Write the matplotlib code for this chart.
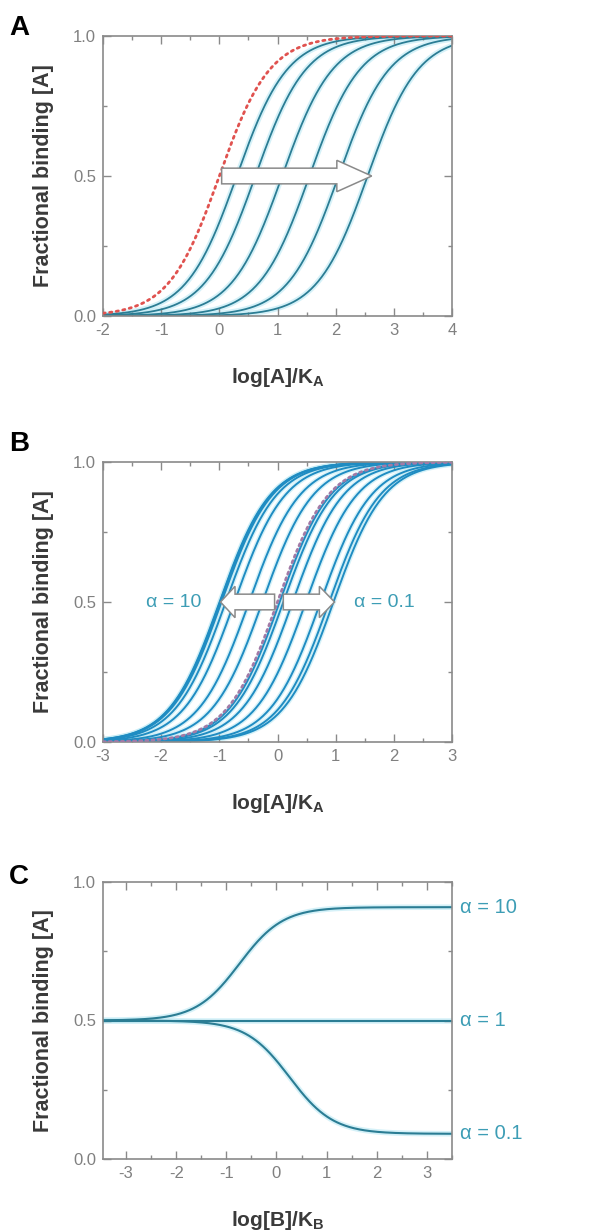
import numpy as np
import matplotlib
matplotlib.use("Agg")
import matplotlib.pyplot as plt
from matplotlib.patches import FancyArrow
from matplotlib.ticker import MultipleLocator, FormatStrFormatter

plt.rcParams['font.family'] = ['Liberation Sans', 'DejaVu Sans']
plt.rcParams['axes.unicode_minus'] = False
plt.rcParams['mathtext.fontset'] = 'custom'
plt.rcParams['mathtext.rm'] = 'Liberation Sans'
plt.rcParams['mathtext.bf'] = 'Liberation Sans:bold'

# ---- data ----
# Panel A: control curve and rightward log-shifts of the midpoint
shifts_a = [0.30, 0.62, 1.08, 1.55, 2.05, 2.55]
# Panel B: modulator concentrations ([B]/K_B) for the two cooperativity factors
b_conc = [0.1, 0.3, 1, 3, 10, 30, 100]
alpha_b = [10, 0.1]
# Panel C: cooperativity factors at [A] = K_A
alpha_c = [10, 1, 0.1]
alpha_c_labels = ['α = 10', 'α = 1', 'α = 0.1']

LINE = '#2b7d94'
HALO = '#c4ecf6'
BLUE = '#1f8cc2'
TEXT_BLUE = '#3d9db5'
GRAY = '#8a8a8a'
LABEL = '#3a3a3a'


def occupancy(logx, dose_ratio):
    a = 10.0 ** np.asarray(logx)
    return a / (a + dose_ratio)


def style_axes(ax, xmajor, xminor):
    ax.set_ylim(0, 1)
    ax.xaxis.set_major_locator(MultipleLocator(xmajor))
    ax.xaxis.set_minor_locator(MultipleLocator(xminor))
    ax.yaxis.set_major_locator(MultipleLocator(0.5))
    ax.yaxis.set_minor_locator(MultipleLocator(0.25))
    ax.yaxis.set_major_formatter(FormatStrFormatter('%.1f'))
    ax.xaxis.set_major_formatter(FormatStrFormatter('%d'))
    ax.tick_params(which='both', direction='in', top=True, right=True,
                   color=GRAY, labelcolor='#808080', labelsize=12, width=1)
    ax.tick_params(which='major', length=6, pad=5)
    ax.tick_params(which='minor', length=3)
    for s in ax.spines.values():
        s.set_color(GRAY)
        s.set_linewidth(1.2)
    ax.set_ylabel('Fractional binding [A]', fontsize=15.5, fontweight='bold',
                  color=LABEL)
    ax.yaxis.set_label_coords(-0.14, 0.5)


def halo_line(ax, x, y, color, lw=1.3, halo_lw=4.0, **kw):
    ax.plot(x, y, color=HALO, lw=halo_lw, alpha=0.7, solid_capstyle='butt', zorder=1)
    ax.plot(x, y, color=color, lw=lw, zorder=2, **kw)


def set_xlabel(ax, text):
    ax.set_xlabel(text, fontsize=15, fontweight='bold', color=LABEL)
    ax.xaxis.set_label_coords(0.5, -0.18)


fig = plt.figure(figsize=(5.9, 12.31), dpi=100)
W, H = 590.0, 1231.0


def add_ax(left, top, right, bottom):
    return fig.add_axes([left / W, 1 - bottom / H, (right - left) / W, (bottom - top) / H])


# ---- Panel A ----
axA = add_ax(103, 36, 452, 316)
xa = np.linspace(-2, 4, 400)
for m in shifts_a:
    halo_line(axA, xa, occupancy(xa, 10.0 ** m), LINE)
axA.plot(xa, occupancy(xa, 1.0), color='#e0524f', lw=2.0, ls=(0, (0.8, 1.6)),
         dash_capstyle='round', zorder=3)
axA.set_xlim(-2, 4)
style_axes(axA, 1, 0.5)
set_xlabel(axA, r'log[A]/K$_\mathbf{A}$')
axA.add_patch(FancyArrow(0.04, 0.5, 2.58, 0, width=0.056, head_width=0.112,
                         head_length=0.6, length_includes_head=True,
                         facecolor='white', edgecolor=GRAY, lw=1.1, zorder=5))

# ---- Panel B ----
axB = add_ax(103, 462, 452, 742)
xb = np.linspace(-3, 3, 400)
for alpha in alpha_b:
    for b in b_conc:
        ratio = (1 + b) / (1 + alpha * b)
        halo_line(axB, xb, occupancy(xb, ratio), BLUE, lw=1.4, halo_lw=3.5)
axB.plot(xb, occupancy(xb, 1.0), color='#a27aa6', lw=2.0, ls=(0, (0.8, 1.4)),
         dash_capstyle='round', zorder=3)
axB.set_xlim(-3, 3)
style_axes(axB, 1, 0.5)
set_xlabel(axB, r'log[A]/K$_\mathbf{A}$')
axB.add_patch(FancyArrow(-0.05, 0.5, -0.93, 0, width=0.056, head_width=0.112,
                         head_length=0.25, length_includes_head=True,
                         facecolor='white', edgecolor=GRAY, lw=1.1, zorder=5))
axB.add_patch(FancyArrow(0.1, 0.5, 0.88, 0, width=0.056, head_width=0.112,
                         head_length=0.26, length_includes_head=True,
                         facecolor='white', edgecolor=GRAY, lw=1.1, zorder=5))
axB.text(-1.78, 0.5, 'α = 10', color=TEXT_BLUE, fontsize=14, ha='center', va='center')
axB.text(1.83, 0.5, 'α = 0.1', color=TEXT_BLUE, fontsize=14, ha='center', va='center')

# ---- Panel C ----
axC = add_ax(103, 882, 452, 1159)
xc = np.linspace(-3.46, 3.5, 400)
bc = 10.0 ** xc
for alpha, lab in zip(alpha_c, alpha_c_labels):
    yc = (1 + alpha * bc) / (2 + (1 + alpha) * bc)
    halo_line(axC, xc, yc, LINE, lw=1.5, halo_lw=4.0)
    axC.text(1.022, yc[-1], lab, transform=axC.get_yaxis_transform(),
             color=TEXT_BLUE, fontsize=14.5, ha='left', va='center', clip_on=False)
axC.set_xlim(-3.46, 3.5)
style_axes(axC, 1, 0.5)
set_xlabel(axC, r'log[B]/K$_\mathbf{B}$')

# panel letters
for letter, ytop in (('A', 35), ('B', 451), ('C', 884)):
    fig.text(9 / W, 1 - ytop / H, letter, fontsize=20, fontweight='bold',
             ha='left', va='baseline', color='black')

fig.savefig('out.png', dpi=100, facecolor='white')
